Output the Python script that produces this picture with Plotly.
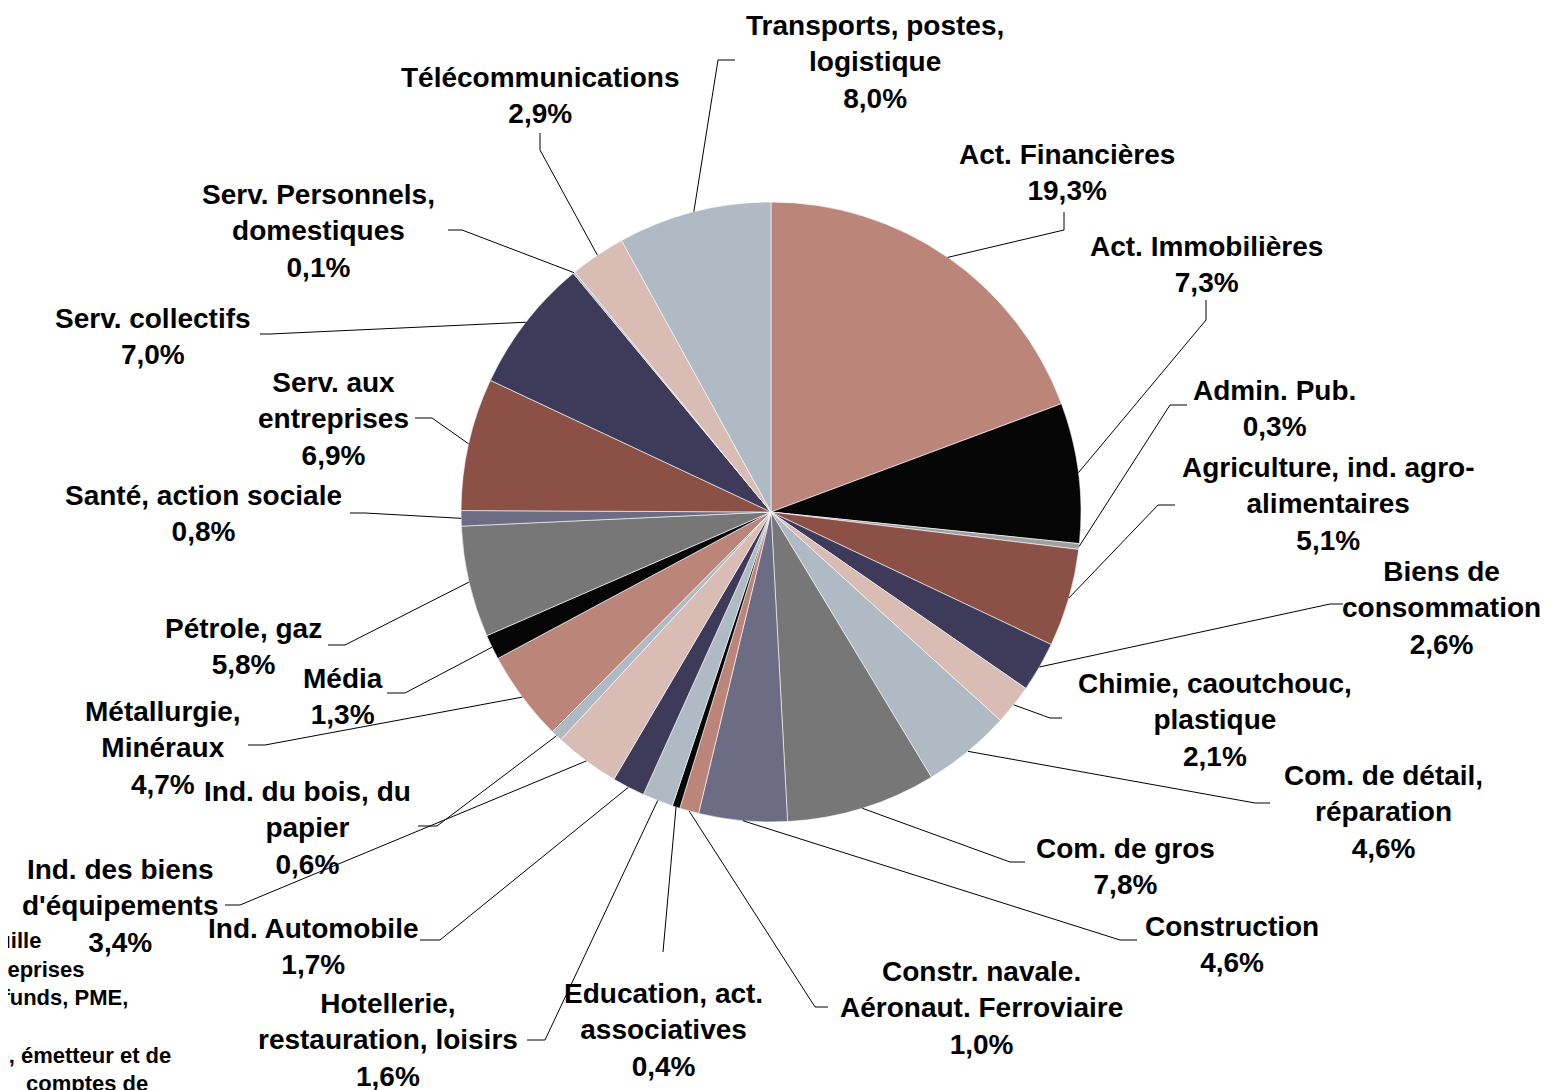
import math
import plotly.graph_objects as go

# ---------------- data ----------------
categories = [
    "Act. Financières", "Act. Immobilières", "Admin. Pub.",
    "Agriculture, ind. agro-<br>alimentaires", "Biens de<br>consommation",
    "Chimie, caoutchouc,<br>plastique", "Com. de détail,<br>réparation",
    "Com. de gros", "Construction", "Constr. navale.<br>Aéronaut. Ferroviaire",
    "Education, act.<br>associatives", "Hotellerie,<br>restauration, loisirs",
    "Ind. Automobile", "Ind. des biens<br>d'équipements", "Ind. du bois, du<br>papier",
    "Métallurgie,<br>Minéraux", "Média", "Pétrole, gaz", "Santé, action sociale",
    "Serv. aux<br>entreprises", "Serv. collectifs", "Serv. Personnels,<br>domestiques",
    "Télécommunications", "Transports, postes,<br>logistique",
]
values = [19.3, 7.3, 0.3, 5.1, 2.6, 2.1, 4.6, 7.8, 4.6, 1.0, 0.4, 1.6,
          1.7, 3.4, 0.6, 4.7, 1.3, 5.8, 0.8, 6.9, 7.0, 0.1, 2.9, 8.0]

SALMON, BLACK, LGRAY, BROWN, NAVY = "#BB8679", "#050505", "#A0A0A0", "#8B5046", "#3E3A59"
PINK, LBLUE, GRAY, SLATE = "#D9BCB4", "#B0BAC4", "#777777", "#6C6C84"
colors = [SALMON, BLACK, LGRAY, BROWN, NAVY, PINK, LBLUE, GRAY, SLATE, SALMON,
          BLACK, LBLUE, NAVY, PINK, LBLUE, SALMON, BLACK, GRAY, SLATE, BROWN,
          NAVY, LBLUE, PINK, LBLUE]

# cut-off labels at the bottom-left edge (lines of a label partly outside the chart)
cut_lines = ["Gestion de portefeuille", "Holdings d'entreprises",
             "Private equity funds, PME,", "Banque, émetteur et de", "comptes de"]

# ---------------- layout (page pixels) ----------------
OFF = 8                      # default body margin of the html page
FW, FH = 1551 - OFF, 1090 - OFF
CX, CY, R = 771, 512, 310

# label centre x, first-line y, leader elbow, leader end
label_pos = [
    (1067, 154, (1064, 230), (1064, 212)),
    (1206, 246, (1206, 320), (1206, 300)),
    (1274, 390, (1170, 405), (1187, 405)),
    (1328, 468, (1158, 505), (1175, 505)),
    (1441, 572, (1330, 604), (1343, 604)),
    (1215, 684, (1050, 718), (1062, 718)),
    (1383, 776, (1255, 803), (1270, 803)),
    (1125, 848, (1010, 862), (1025, 862)),
    (1232, 926, (1120, 940), (1137, 940)),
    (981, 972, (815, 1007), (828, 1007)),
    (663, 994, (663, 952), (663, 952)),
    (388, 1004, (545, 1040), (527, 1040)),
    (313, 928, (440, 940), (420, 940)),
    (120, 870, (240, 905), (225, 905)),
    (307, 792, (437, 826), (418, 826)),
    (163, 712, (265, 745), (248, 745)),
    (343, 678, (405, 693), (387, 693)),
    (243, 628, (345, 645), (328, 645)),
    (203, 496, (365, 513), (350, 513)),
    (333, 383, (432, 418), (415, 418)),
    (153, 318, (270, 334), (260, 334)),
    (318, 195, (462, 230), (448, 230)),
    (540, 77, (540, 150), (540, 133)),
    (875, 26, (718, 60), (735, 60)),
]
cut_pos = [(43, 940), (87, 969), (130, 997), (173, 1055), (150, 1083)]


def px(x):
    return (x - OFF) / FW


def py(y):
    return 1 - (y - OFF) / FH


FONT = "Liberation Sans, Arial, sans-serif"

fig = go.Figure(go.Pie(
    labels=categories, values=values, sort=False, direction="clockwise", rotation=0,
    marker=dict(colors=colors, line=dict(color="#FFFFFF", width=0.6)),
    textinfo="none", hoverinfo="label+percent",
    domain=dict(x=[px(CX - R), px(CX + R)], y=[py(CY + R), py(CY - R)]),
))

total = sum(values)
cum = 0.0
annotations = []
shapes = []
for name, v, (lx, ly, elbow, end) in zip(categories, values, label_pos):
    mid = (cum + v / 2) / total * 2 * math.pi
    cum += v
    sx = CX + R * math.sin(mid)
    sy = CY - R * math.cos(mid)
    pct = f"{v:.1f}".replace(".", ",") + "%"
    text = f"{name}<br>{pct}"
    n = text.count("<br>") + 1
    annotations.append(dict(
        x=px(lx), y=py(ly + (n - 1) * 18), xref="paper", yref="paper",
        text=text, showarrow=False, xanchor="center", yanchor="middle", align="center",
        font=dict(family=FONT, size=28, color="#000000", weight="bold"),
    ))
    path = f"M {px(sx)} {py(sy)} L {px(elbow[0])} {py(elbow[1])} L {px(end[0])} {py(end[1])}"
    shapes.append(dict(type="path", xref="paper", yref="paper", path=path,
                       line=dict(color="#000000", width=1)))

for t, (rx, ry) in zip(cut_lines, cut_pos):
    annotations.append(dict(
        x=px(rx), y=py(ry), xref="paper", yref="paper", text=t, showarrow=False,
        xanchor="right", yanchor="middle",
        font=dict(family=FONT, size=22, color="#000000", weight="bold"),
    ))

fig.update_layout(
    width=FW, height=FH, margin=dict(l=0, r=0, t=0, b=0),
    paper_bgcolor="white", plot_bgcolor="white", showlegend=False,
    annotations=annotations, shapes=shapes,
)

fig.write_html("out.html")
